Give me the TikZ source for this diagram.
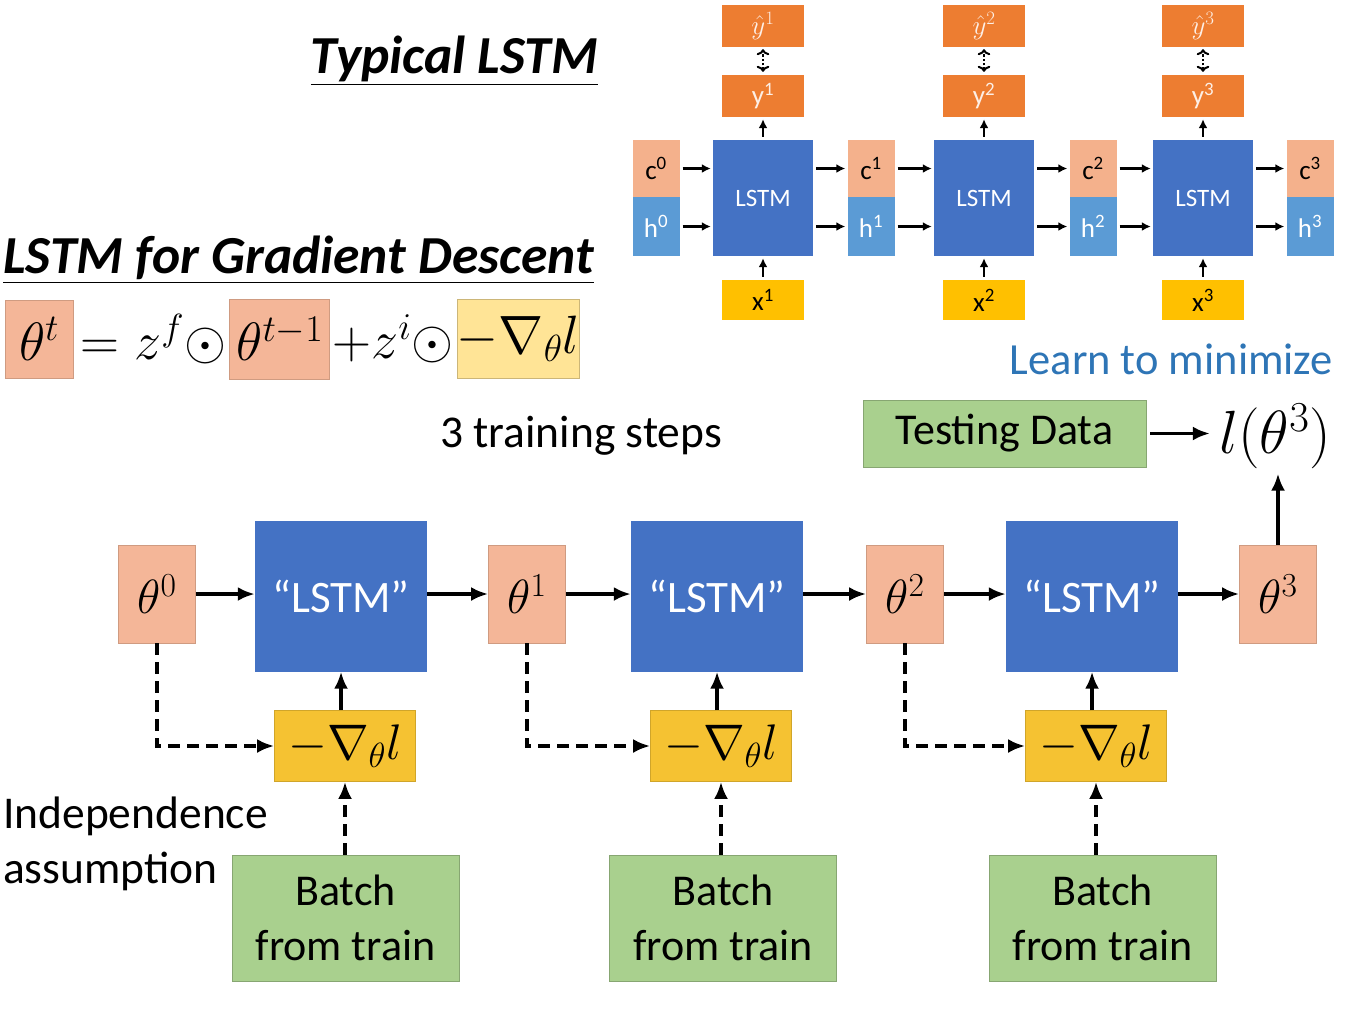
\RequirePackage{fix-cm}
\documentclass[tikz,border=0pt]{standalone}
\usepackage[no-math]{fontspec}
\setmainfont{Carlito}
\usepackage{amsmath}
\usetikzlibrary{positioning,arrows.meta}

\definecolor{thetacol}{RGB}{244,182,152}
\definecolor{lstmblue}{RGB}{68,114,196}
\definecolor{gradcol}{RGB}{245,194,50}
\definecolor{batchcol}{RGB}{169,208,142}
\definecolor{outcol}{RGB}{237,125,49}
\definecolor{cellcol}{RGB}{244,177,140}
\definecolor{hiddencol}{RGB}{91,155,213}
\definecolor{incol}{RGB}{255,192,0}
\definecolor{lightgrad}{RGB}{255,228,150}
\definecolor{learnblue}{RGB}{46,117,182}

\tikzset{
  % boxes of the lower picture
  thetabox/.style={fill=thetacol, draw=thetacol!85!black, line width=0.8pt,
    minimum width=77pt, minimum height=98pt, inner sep=0pt,
    font=\fontsize{48}{48}\selectfont},
  lstmbox/.style={fill=lstmblue, text=white, minimum width=172pt,
    minimum height=151pt, inner sep=0pt, font=\fontsize{45}{45}\selectfont},
  gradbox/.style={fill=gradcol, draw=gradcol!85!black, line width=0.8pt,
    minimum width=141pt, minimum height=71pt, inner sep=0pt,
    font=\fontsize{50}{50}\selectfont},
  batchbox/.style={fill=batchcol, draw=batchcol!80!black, line width=0.8pt,
    minimum width=227pt, minimum height=126pt, inner sep=0pt, align=center,
    font=\fontsize{44}{55}\selectfont},
  bigtext/.style={inner sep=0pt, font=\fontsize{45.5}{55}\selectfont},
  % boxes of the typical LSTM
  smallbox/.style={inner sep=0pt, font=\fontsize{27}{27}\selectfont},
  cellbox/.style={smallbox, fill=lstmblue, text=white, minimum width=100pt,
    minimum height=116pt, font=\fontsize{25}{25}\selectfont},
  cbox/.style={smallbox, fill=cellcol, minimum width=47pt, minimum height=57pt},
  hbox/.style={smallbox, fill=hiddencol, text=white, minimum width=47pt,
    minimum height=59pt},
  inbox/.style={smallbox, fill=incol, minimum width=82pt, minimum height=40pt},
  outbox/.style={smallbox, fill=outcol, text=white!88!outcol,
    minimum width=82pt, minimum height=42pt},
  % arrows
  flow/.style={-{Latex[length=17pt,width=14pt]}, line width=3.4pt},
  dflow/.style={flow, dash pattern=on 12pt off 7pt},
  smallflow/.style={-{Latex[length=9pt,width=9pt]}, line width=2.4pt,
    shorten <=3pt, shorten >=2pt},
  % equation
  eqtext/.style={inner sep=0pt, font=\fontsize{54}{54}\selectfont},
  titletext/.style={inner sep=0pt, font=\fontsize{53.5}{53.5}\selectfont\bfseries\itshape},
}

\begin{document}
\begin{tikzpicture}[x=1pt,y=-1pt]
  \useasboundingbox (0,0) rectangle (1348,1013);

  % Titles
  \node[titletext, anchor=base east] (title1) at (598,73) {\underline{Typical LSTM}};
  \node[titletext, anchor=base west] (title2) at (3,273) {\underline{LSTM for Gradient Descent}};

  % Update rule
  \node[thetabox, eqtext, minimum width=68pt, minimum height=78pt] (eqtheta) at (39,339) {$\theta^t$};
  \node[eqtext, right=7pt of eqtheta] (eqmid) {$=z^f\odot$};
  \node[thetabox, eqtext, minimum width=100pt, minimum height=80pt, right=3pt of eqmid] (eqprev) {$\theta^{t-1}$};
  \node[eqtext, right=2pt of eqprev] (eqplus) {$+z^i\odot$};
  \node[eqtext, fill=lightgrad, draw=lightgrad!80!black, line width=0.8pt,
    minimum width=115pt, minimum height=79pt, right=3pt of eqplus] (eqgrad) {$-\nabla_\theta l$};

  % Typical LSTM (top right)
  \foreach \i/\cx in {0/656, 1/871, 2/1093, 3/1310} {
    \node[cbox] (c\i) at (\cx,168.5) {c\textsuperscript{\i}};
    \node[hbox] (h\i) at (\cx,226.5) {h\textsuperscript{\i}};
  }
  \foreach \i/\cx in {1/763, 2/984, 3/1203} {
    \node[cellbox] (cell\i) at (\cx,198) {LSTM};
    \node[inbox] (x\i) at (\cx,300) {x\textsuperscript{\i}};
    \node[outbox] (y\i) at (\cx,96) {y\textsuperscript{\i}};
    \node[outbox] (yhat\i) at (\cx,26) {$\hat{y}^{\i}$};
  }
  \foreach \i in {1,2,3} {
    \pgfmathtruncatemacro\p{\i-1}
    \draw[smallflow] (c\p.east) -- (c\p.east -| cell\i.west);
    \draw[smallflow] (h\p.east) -- (h\p.east -| cell\i.west);
    \draw[smallflow] (cell\i.east |- c\i) -- (c\i.west);
    \draw[smallflow] (cell\i.east |- h\i) -- (h\i.west);
    \draw[smallflow] (x\i.north) -- (cell\i.south);
    \draw[smallflow] (cell\i.north) -- (y\i.south);
    \draw[smallflow, <->, dotted, line width=2pt] (y\i.north) -- (yhat\i.south);
  }

  % Loss on testing data
  \node[anchor=base east, inner sep=0pt, text=learnblue, font=\fontsize{44.5}{44.5}\selectfont]
    (learn) at (1333,374) {Learn to minimize};
  \node[batchbox, minimum width=283pt, minimum height=67pt] (testing) at (1004.5,433.5) {Testing Data};
  \node[eqtext, font=\fontsize{61}{61}\selectfont, inner sep=3pt] (loss) at (1275,436) {$l(\theta^3)$};
  \draw[flow, shorten <=4pt, shorten >=6pt] (testing.east) -- (testing.east -| loss.west);

  \node[bigtext, anchor=base] (steps) at (581,447) {3 training steps};

  % Three training steps
  \node[thetabox] (theta0) at (157,594) {$\theta^0$};
  \foreach \i/\lx/\tx/\bx in {1/341/527/345.5, 2/717/905/723, 3/1092/1278/1102.5} {
    \node[lstmbox] (lstm\i) at (\lx,596) {``LSTM''};
    \node[thetabox] (theta\i) at (\tx,594) {$\theta^\i$};
    \node[gradbox] (grad\i) at (\lx+4,746) {$-\nabla_\theta l$};
    \node[batchbox] (batch\i) at (\bx,918) {Batch\\from train};
  }
  \foreach \i in {1,2,3} {
    \pgfmathtruncatemacro\p{\i-1}
    \draw[flow] (theta\p.east) -- (theta\p.east -| lstm\i.west);
    \draw[flow] (lstm\i.east |- theta\i) -- (theta\i.west);
    \draw[flow] (lstm\i.south |- grad\i.north) -- (lstm\i.south);
    \draw[dflow] (grad\i.south |- batch\i.north) -- (grad\i.south);
    \draw[dflow] (theta\p.south) |- (grad\i.west);
  }
  \draw[flow, shorten >=2pt] (theta3.north) -- (theta3.north |- loss.south);

  \node[bigtext, anchor=north west, align=left] (indep) at (3,797) {Independence\\assumption};
\end{tikzpicture}
\end{document}
